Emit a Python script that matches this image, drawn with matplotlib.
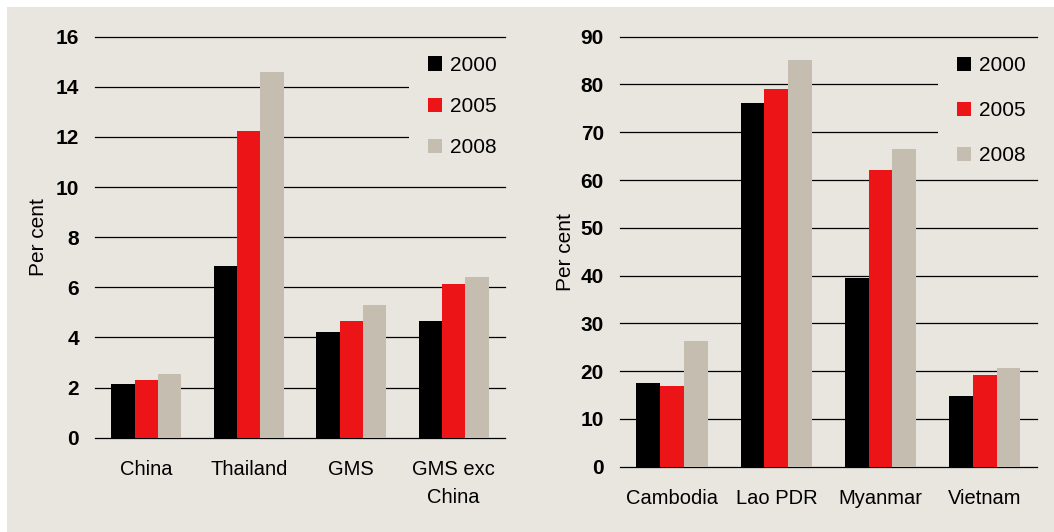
"""
GMS share charts - two grouped bar panels
"""
import matplotlib
matplotlib.use('Agg')
import matplotlib.pyplot as plt
import numpy as np
from matplotlib.patches import Rectangle

plt.rcParams['font.family'] = ['Liberation Sans', 'DejaVu Sans']

# data
years = ['2000', '2005', '2008']
left_cats = ['China', 'Thailand', 'GMS', 'GMS exc\nChina']
left_2000 = [2.15, 6.85, 4.2, 4.65]
left_2005 = [2.3, 12.25, 4.65, 6.15]
left_2008 = [2.55, 14.6, 5.3, 6.4]

right_cats = ['Cambodia', 'Lao PDR', 'Myanmar', 'Vietnam']
right_2000 = [17.6, 76.1, 39.6, 14.8]
right_2005 = [16.9, 79.0, 62.1, 19.3]
right_2008 = [26.3, 85.1, 66.6, 20.6]

colors = ['#000000', '#ED1418', '#C4BDB0']
bg = '#E9E6E0'

fig = plt.figure(figsize=(10.54, 5.32), dpi=100)
fig.patches.append(Rectangle((7 / 1054, 0), 1 - 7 / 1054, 525 / 532,
                             transform=fig.transFigure, facecolor=bg,
                             edgecolor='none', zorder=-5))

ax1 = fig.add_axes([0.0901, 0.1773, 0.389, 0.7538])
ax2 = fig.add_axes([0.5882, 0.1227, 0.3956, 0.8083])


def draw(ax, cats, series, ymax, step, label_x, spacing, leg_x, leg_top, cover):
    x = np.arange(len(cats))
    w = 0.228
    for i, (vals, c, yr) in enumerate(zip(series, colors, years)):
        ax.bar(x + (i - 1) * w, vals, w, color=c, label=yr, zorder=2)
    ax.set_xlim(-0.5, len(cats) - 0.5)
    ax.set_ylim(0, ymax)
    ax.set_yticks(np.arange(0, ymax + 1, step))
    ax.set_xticks(x)
    ax.set_xticklabels(cats, fontsize=14.5, linespacing=1.6, va='top')
    for t in ax.get_yticklabels():
        t.set_fontweight('bold')
        t.set_fontsize(15)
    ax.tick_params(axis='y', length=0, pad=11.5)
    ax.tick_params(axis='x', length=0, pad=16)
    ax.set_facecolor('none')
    for s in ax.spines.values():
        s.set_visible(False)
    ax.grid(True, axis='y', color='black', linewidth=0.9)
    ax.set_axisbelow(True)
    for gl in ax.get_ygridlines():
        gl.set_clip_on(False)
    ax.set_ylabel('Per cent', fontsize=15)
    ax.yaxis.set_label_coords(label_x, 0.5)
    # beige block behind the legend hides the gridlines there
    ax.add_patch(Rectangle((cover, 0.70), 1.02 - cover, 0.25,
                           transform=ax.transAxes, facecolor=bg,
                           edgecolor='none', zorder=1, clip_on=False))
    ax.legend(loc='upper left', bbox_to_anchor=(leg_x, leg_top),
              fontsize=15, frameon=False, handlelength=0.7, handleheight=0.7,
              handletextpad=0.35, labelspacing=spacing, borderpad=0,
              borderaxespad=0)


draw(ax1, left_cats, [left_2000, left_2005, left_2008], 16, 2, -0.115, 1.07,
     0.812, 0.952, 0.766)
draw(ax2, right_cats, [right_2000, right_2005, right_2008], 90, 10, -0.108, 1.24,
     0.808, 0.954, 0.763)

plt.savefig('out.png', dpi=100, facecolor='white')
